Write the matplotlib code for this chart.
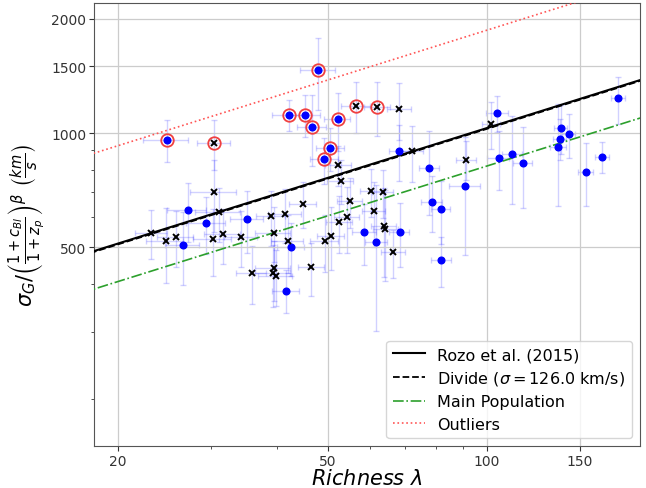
import numpy as np
import matplotlib
matplotlib.use("Agg")
import matplotlib.pyplot as plt
from matplotlib.ticker import FixedLocator, FixedFormatter, NullFormatter, LogLocator

# --- main population (blue dots) ---
blue_lam = [27.1, 29.4, 35.1, 26.5, 42.5, 41.6, 68.2, 58.5, 61.7, 68.3, 77.7, 78.6, 81.7,
            82.0, 90.9, 104.4, 105.2, 111.7, 116.9, 138.1, 137.4, 142.8, 136.4, 177.3, 153.9, 165.3]
blue_sig = [628, 580, 594, 508, 501, 385, 898, 550, 517, 549, 810, 659, 630,
            464, 727, 1129, 860, 881, 835, 1032, 967, 992, 918, 1234, 791, 865]
blue_lam_err = [2.3, 2.5, 2.5, 2.0, 2.5, 2.5, 3.0, 3.0, 3.0, 3.0, 3.5, 3.5, 3.5,
                3.6, 6.0, 5.0, 5.0, 5.0, 5.0, 4.0, 4.0, 4.0, 5.0, 5.5, 5.0, 5.0]
blue_sig_err = [110, 100, 110, 110, 80, 50, 150, 100, 215, 105, 200, 110, 120,
                70, 250, 120, 150, 230, 200, 150, 120, 130, 275, 175, 150, 80]

# --- black crosses ---
cross_lam = [30.4, 31.0, 23.1, 24.6, 25.7, 30.2, 31.6, 34.2, 39.0, 41.4, 44.8, 39.4,
             41.9, 49.3, 50.7, 35.8, 39.4, 39.3, 39.8, 46.5, 52.3, 52.8, 60.4, 63.5,
             55.0, 61.0, 54.3, 52.5, 63.8, 64.2, 66.5, 68.2, 72.1, 91.3, 101.9]
cross_sig = [700, 618, 547, 519, 533, 526, 541, 533, 604, 612, 652, 547,
             519, 520, 537, 429, 441, 428, 421, 443, 826, 749, 702, 699,
             662, 622, 602, 582, 568, 558, 485, 1156, 895, 851, 1058]
cross_lam_err = [3.0, 3.0, 1.6, 2.0, 2.0, 2.5, 2.5, 2.5, 2.5, 3.0, 2.6, 3.0,
                 3.0, 3.0, 3.0, 2.4, 3.0, 3.0, 3.0, 2.7, 3.0, 3.0, 3.0, 3.0,
                 3.0, 3.0, 3.0, 3.0, 3.5, 3.5, 3.5, 3.5, 3.5, 4.0, 4.0]
cross_sig_err = [150, 100, 80, 115, 90, 105, 90, 90, 100, 100, 90, 90,
                 90, 90, 100, 75, 80, 80, 70, 70, 100, 100, 100, 100,
                 100, 120, 120, 100, 150, 150, 70, 200, 150, 100, 150]

# --- outliers (circled in red) ---
out_lam = [24.7, 47.9, 42.2, 45.3, 46.6, 52.1, 50.5, 49.2, 30.4, 56.4, 61.9]
out_sig = [960, 1467, 1117, 1117, 1037, 1086, 914, 853, 941, 1180, 1174]
out_lam_err = [2.4, 3.7, 3.0, 3.0, 3.0, 3.0, 3.0, 3.0, 2.2, 3.5, 3.5]
out_sig_err = [120, 316, 105, 140, 220, 190, 120, 120, 140, 180, 190]
out_is_cross = [False, False, False, False, False, False, False, False, True, True, True]

# --- scaling relations: sigma = amp * (lam / 100) ** slope ---
slope = 0.435
amp_rozo = 1031.0
amp_divide = 1026.0
amp_main = 819.0
amp_out = 1866.0
divide_sigma = 126.0

fig = plt.figure(figsize=(6.46, 4.89), dpi=100)
ax = fig.add_axes([0.1455, 0.0859, 0.8452, 0.9059])

ebar_col = (0.0, 0.0, 1.0, 0.18)
ax.errorbar(blue_lam, blue_sig, xerr=blue_lam_err, yerr=blue_sig_err, fmt='none',
            ecolor=ebar_col, elinewidth=1, capsize=2.5, zorder=1)
ax.errorbar(cross_lam, cross_sig, xerr=cross_lam_err, yerr=cross_sig_err, fmt='none',
            ecolor=ebar_col, elinewidth=1, capsize=2.5, zorder=1)
ax.errorbar(out_lam, out_sig, xerr=out_lam_err, yerr=out_sig_err, fmt='none',
            ecolor=ebar_col, elinewidth=1, capsize=2.5, zorder=1)

lam_line = np.array([17.0, 200.0])
ax.plot(lam_line, amp_rozo * (lam_line / 100) ** slope, '-', color='black', lw=1.5,
        label='Rozo et al. (2015)', zorder=3)
ax.plot(lam_line, amp_divide * (lam_line / 100) ** slope, '--', color='black', lw=1.3,
        label=r'Divide ($\sigma = $' + f'{divide_sigma:.1f}' + ' km/s)', zorder=3)
ax.plot(lam_line, amp_main * (lam_line / 100) ** slope, '-.', color='#2ca02c', lw=1.2,
        label='Main Population', zorder=3)
ax.plot(lam_line, amp_out * (lam_line / 100) ** slope, ':', color='#ff5555', lw=1.2,
        label='Outliers', zorder=3)

ax.plot(blue_lam, blue_sig, 'o', color='blue', ms=4.8, ls='none', zorder=4)
ax.plot(cross_lam, cross_sig, 'x', color='black', ms=3.8, mew=1.4, ls='none', zorder=4)
out_lam_a = np.array(out_lam)
out_sig_a = np.array(out_sig)
crs = np.array(out_is_cross)
ax.plot(out_lam_a[~crs], out_sig_a[~crs], 'o', color='blue', ms=4.8, ls='none', zorder=4)
ax.plot(out_lam_a[crs], out_sig_a[crs], 'x', color='black', ms=3.8, mew=1.4, ls='none', zorder=4)
ax.plot(out_lam, out_sig, 'o', mfc='none', mec='#f04040', ms=9, mew=1.3, ls='none', zorder=5)

ax.set_xscale('log')
ax.set_yscale('log')
ax.set_xlim(18.0, 195)
ax.set_ylim(150, 2200)

ax.xaxis.set_major_locator(FixedLocator([20, 50, 100, 150]))
ax.xaxis.set_major_formatter(FixedFormatter(['20', '50', '100', '150']))
ax.xaxis.set_minor_locator(LogLocator(subs=np.arange(2, 10)))
ax.xaxis.set_minor_formatter(NullFormatter())
ax.yaxis.set_major_locator(FixedLocator([500, 1000, 1500, 2000]))
ax.yaxis.set_major_formatter(FixedFormatter(['500', '1000', '1500', '2000']))
ax.yaxis.set_minor_locator(LogLocator(subs=np.arange(2, 10)))
ax.yaxis.set_minor_formatter(NullFormatter())

ax.grid(True, which='major', color='#cccccc', lw=0.9)
ax.tick_params(which='both', labelsize=10, colors='#333333', pad=2)
for s in ax.spines.values():
    s.set_color('#555555')

ax.set_xlabel(r'$Richness\ \lambda$', fontsize=15, labelpad=0)
ax.set_ylabel(r'$\sigma_G/\left(\frac{1+c_{Bl}}{1+z_p}\right)^\beta\ \left(\frac{km}{s}\right)$',
              fontsize=15, labelpad=2)
ax.legend(loc='lower right', fontsize=11.5, handlelength=2.0, labelspacing=0.45)

fig.savefig('out.png', dpi=100)
